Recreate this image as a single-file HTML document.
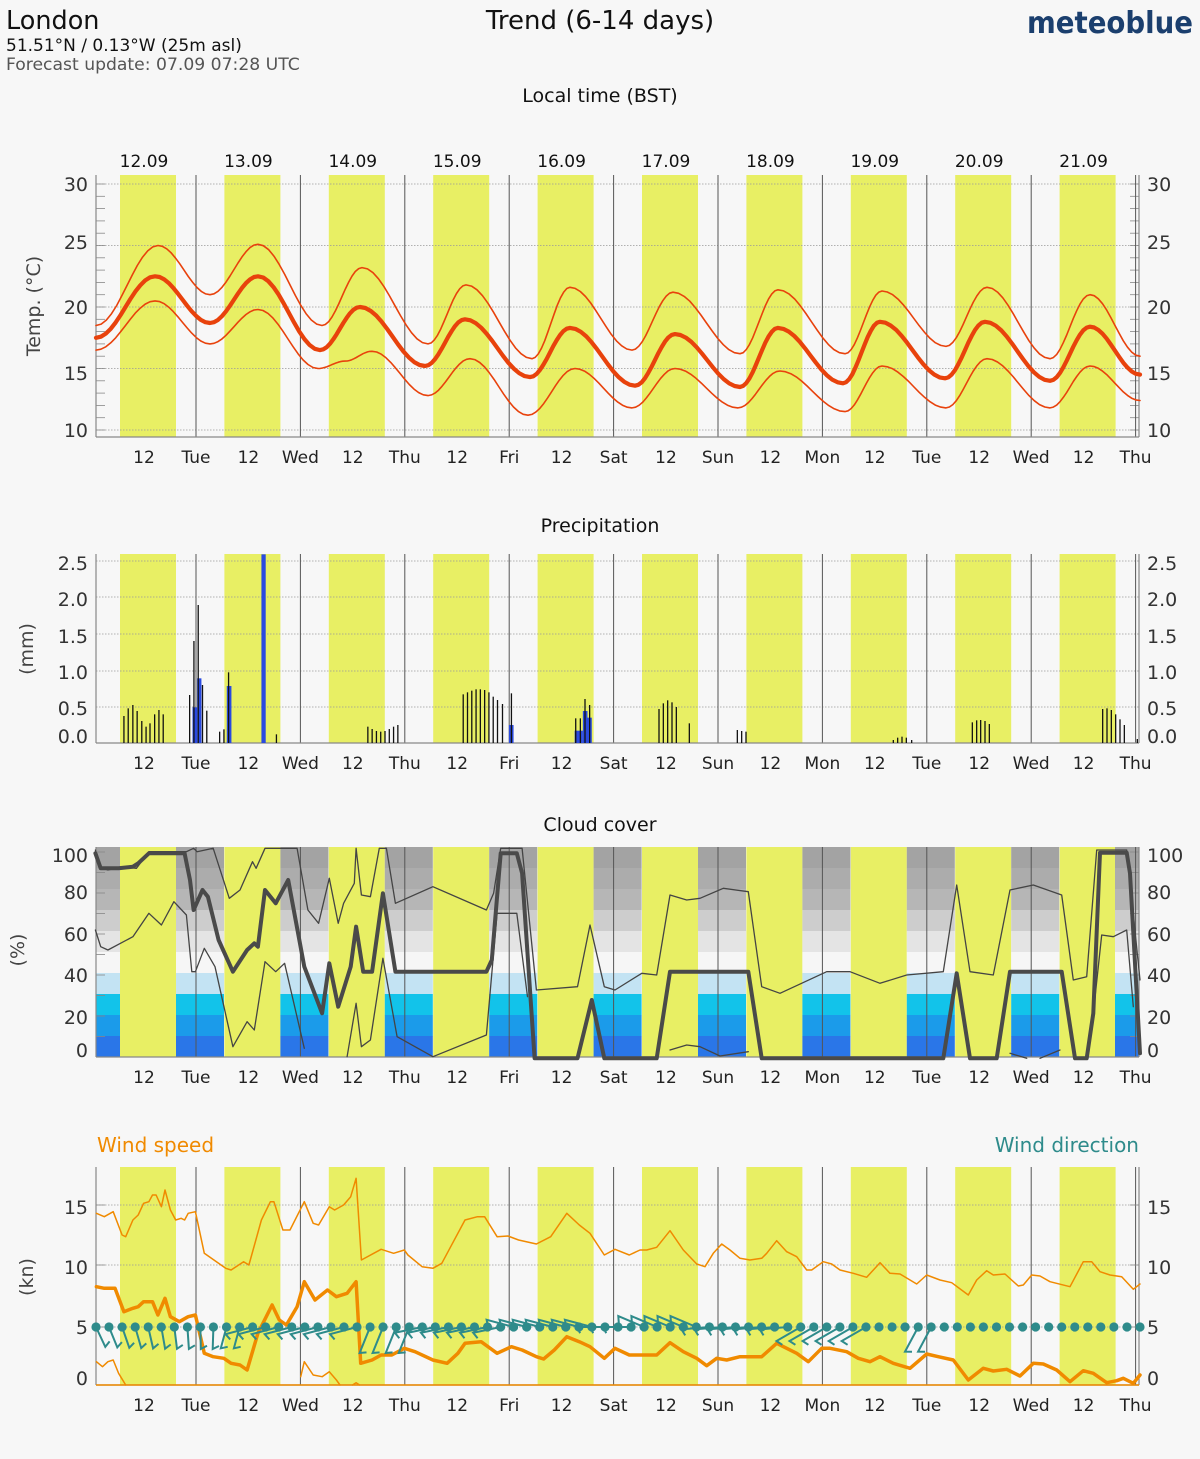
<!DOCTYPE html>
<html><head><meta charset="utf-8"><style>
html,body{margin:0;padding:0;background:#f7f7f7}
svg{display:block;font-family:"DejaVu Sans","Liberation Sans",sans-serif}
</style></head><body>
<svg id="s" width="1200" height="1459" viewBox="0 0 1200 1459" xmlns="http://www.w3.org/2000/svg">
<rect width="1200" height="1459" fill="#f7f7f7"/>
<text x="6" y="29" font-size="25.5" fill="#111">London</text>
<text x="6" y="51" font-size="17" fill="#111">51.51°N / 0.13°W (25m asl)</text>
<text x="6" y="70" font-size="17.2" fill="#555">Forecast update: 07.09 07:28 UTC</text>
<text x="600" y="29" font-size="26" fill="#111" text-anchor="middle">Trend (6-14 days)</text>
<text x="1027" y="33" font-size="30" font-weight="bold" fill="#1b3f6e" textLength="166" lengthAdjust="spacingAndGlyphs">meteoblue</text>
<text x="600" y="102" font-size="19" fill="#111" text-anchor="middle">Local time (BST)</text>
<text x="600" y="532" font-size="19" fill="#111" text-anchor="middle">Precipitation</text>
<text x="600" y="831" font-size="19" fill="#111" text-anchor="middle">Cloud cover</text>
<text x="97" y="1152" font-size="20" fill="#f08a00">Wind speed</text>
<text x="1139" y="1152" font-size="20" fill="#2e8b8b" text-anchor="end">Wind direction</text>
<g id="g"></g>
</svg>
<script>
var out=[];
function P(s){out.push(s);}
var D=104.4;
function yel(top,bot){for(var k=0;k<10;k++){P('<rect x="'+(120+D*k)+'" y="'+top+'" width="56" height="'+(bot-top)+'" fill="#e8ef64"/>');}}
function mid(top,bot){for(var k=0;k<10;k++){var x=196+D*k;P('<line x1="'+x+'" y1="'+top+'" x2="'+x+'" y2="'+bot+'" stroke="#555" stroke-width="1"/>');}}
function frame(top,bot){P('<line x1="96" y1="'+top+'" x2="96" y2="'+bot+'" stroke="#888" stroke-width="1.2"/>');P('<line x1="1139" y1="'+top+'" x2="1139" y2="'+bot+'" stroke="#888" stroke-width="1.2"/>');P('<line x1="96" y1="'+bot+'" x2="1139" y2="'+bot+'" stroke="#888" stroke-width="1.2"/>');}
function grid(ys){ys.forEach(function(y){P('<line x1="96" y1="'+y+'" x2="1139" y2="'+y+'" stroke="#999" stroke-width="0.8" stroke-dasharray="1.5,1.5"/>');});}
function ticks(ys,len){ys.forEach(function(y){P('<line x1="96" y1="'+y+'" x2="'+(96+len)+'" y2="'+y+'" stroke="#888" stroke-width="0.8"/>');P('<line x1="'+(1139-len)+'" y1="'+y+'" x2="1139" y2="'+y+'" stroke="#888" stroke-width="0.8"/>');});}
function ylabels(arr){arr.forEach(function(a){P('<text x="88" y="'+(a[1]+7)+'" font-size="19" fill="#333" text-anchor="end">'+a[0]+'</text>');P('<text x="1147" y="'+(a[1]+7)+'" font-size="19" fill="#333">'+a[0]+'</text>');});}
var days=["Tue","Wed","Thu","Fri","Sat","Sun","Mon","Tue","Wed","Thu"];
function xlabels(y){for(var k=0;k<10;k++){P('<text x="'+(144+D*k)+'" y="'+y+'" font-size="17" fill="#222" text-anchor="middle">12</text>');P('<text x="'+(196+D*k)+'" y="'+y+'" font-size="17" fill="#222" text-anchor="middle">'+days[k]+'</text>');}}
function ytitle(t,x,y){P('<text transform="translate('+x+','+y+') rotate(-90)" font-size="19" fill="#444" text-anchor="middle">'+t+'</text>');}
function cosPath(pts,fy){var s='';for(var i=0;i<pts.length-1;i++){var a=pts[i],b=pts[i+1];for(var j=0;j<=12;j++){var t=j/12,u=(1-Math.cos(Math.PI*t))/2;var x=a[0]+(b[0]-a[0])*t,y=fy(a[1]+(b[1]-a[1])*u);s+=(s?'L':'M')+x.toFixed(1)+','+y.toFixed(1);}}return s;}
function lin(pts){return pts.map(function(p,i){return (i?'L':'M')+p[0].toFixed(1)+','+p[1].toFixed(1);}).join('');}
function z(pts,ox,oy,fx,fy){return pts.map(function(p){return [ox+p[0]/fx,oy+p[1]/fy];});}
function path(d,c,w){P('<path d="'+d+'" fill="none" stroke="'+c+'" stroke-width="'+w+'" stroke-linejoin="round" stroke-linecap="round"/>');}

var dates=["12.09","13.09","14.09","15.09","16.09","17.09","18.09","19.09","20.09","21.09"];
for(var k=0;k<10;k++)P('<text x="'+(144+D*k)+'" y="167" font-size="17" fill="#111" text-anchor="middle">'+dates[k]+'</text>');

/* TEMP */
var tY=function(T){return 184+(30-T)*12.3;};
yel(175,437);
grid([184,245.5,307,368.5,430]);
var tk=[];for(var T=10;T<=30;T++)tk.push(tY(T));ticks(tk,9);
mid(175,437);frame(175,437);
ylabels([["30",184],["25",242],["20",307],["15",373],["10",430]]);
ytitle("Temp. (°C)",40,306);
xlabels(463);
var tm=[[96,17.5],[155,22.5],[210,18.7],[258,22.5],[320,16.5],[360,20],[425,15.2],[465,19],[530,14.3],[570,18.3],[635,13.6],[675,17.8],[740,13.5],[778,18.3],[843,13.8],[880,18.8],[945,14.2],[985,18.8],[1050,14.0],[1090,18.4],[1140,14.5]];
var tu=[[96,18.5],[158,25],[210,21],[258,25.1],[322,18.5],[362,23.2],[428,17],[466,21.8],[532,15.8],[570,21.6],[632,16.5],[673,21.2],[740,16.2],[778,21.4],[845,16.2],[882,21.3],[946,16.8],[987,21.6],[1050,15.8],[1090,21],[1140,16]];
var tl=[[96,16.5],[155,20.5],[210,17],[258,19.8],[318,15],[345,15.6],[372,16.4],[428,12.8],[470,15.8],[528,11.2],[575,15],[632,11.8],[675,15],[738,11.8],[780,14.8],[845,11.5],[882,15.2],[946,11.8],[987,15.8],[1050,11.8],[1090,15.2],[1140,12.4]];
path(cosPath(tu,tY),"#e8420c",1.6);path(cosPath(tl,tY),"#e8420c",1.6);path(cosPath(tm,tY),"#e8420c",4.2);

/* PRECIP */
yel(554,743);
grid([561,597,634,671,707]);
mid(554,743);frame(554,743);
ylabels([["2.5",563],["2.0",599],["1.5",636],["1.0",672],["0.5",708],["0.0",736]]);
ytitle("(mm)",33,649);
xlabels(769);
var blue=[[287,300,487],[300,312,400],[383,396,423],[480,492,28],[1173,1186,540],[1357,1380,557],[1380,1393,498],[1393,1405,518]];
blue.forEach(function(b){var x1=90+b[0]/2.8,x2=90+b[1]/2.8,y=545+b[2]/3;P('<rect x="'+x1+'" y="'+y+'" width="'+(x2-x1)+'" height="'+(743-y)+'" fill="#2a4ae0"/>');});
var bl=[[95,513],[107,490],[120,480],[132,498],[145,528],[157,545],[168,535],[181,508],[193,495],[205,508],[279,450],[291,288],[303,180],[315,420],[327,497],[363,560],[375,553],[388,382],[522,568],[778,545],[790,552],[802,558],[814,560],[826,558],[838,552],[850,545],[862,540],[1045,448],[1057,442],[1069,437],[1081,433],[1093,433],[1105,435],[1117,442],[1129,455],[1141,465],[1155,477],[1180,445],[1360,520],[1373,520],[1386,462],[1399,480]];
bl.forEach(function(b){var x=90+b[0]/2.8,y=545+b[1]/3;P('<line x1="'+x+'" y1="'+y+'" x2="'+x+'" y2="743" stroke="#111" stroke-width="1.3"/>');});
var br=[[57,492],[70,475],[83,466],[96,472],[109,486],[148,535],[292,555],[305,558],[318,560],[760,585],[773,578],[786,575],[799,578],[815,585],[997,532],[1010,526],[1022,525],[1035,528],[1048,537],[1388,492],[1401,490],[1414,495],[1427,508],[1440,523],[1453,540],[1492,582]];
br.forEach(function(b){var x=640+b[0]/3,y=545+b[1]/3;P('<line x1="'+x+'" y1="'+y+'" x2="'+x+'" y2="743" stroke="#111" stroke-width="1.3"/>');});

/* CLOUD */
yel(847,1057);
var cols=["#a3a3a3","#acacac","#b6b6b6","#cdcdcd","#e4e4e4","#f6f6f6","#c3e3f3","#12c3ea","#1b9bea","#2a76e8"];
var segs=[[96,120]];for(var k=0;k<9;k++)segs.push([176+D*k,224+D*k]);segs.push([1115,1139]);
segs.forEach(function(s){for(var i=0;i<10;i++)P('<rect x="'+s[0]+'" y="'+(847+i*21)+'" width="'+(s[1]-s[0])+'" height="21.2" fill="'+cols[i]+'"/>');});
var ck=[];for(var p=0;p<=100;p+=10)ck.push(1057-p*2.05);ticks(ck,9);
mid(847,1057);frame(847,1057);
ylabels([["100",855],["80",892],["60",934],["40",975],["20",1017],["0",1050]]);
ytitle("(%)",24,950);
xlabels(1083);
var Z1=function(a){return z(a,90,840,2.8,3);},Z2=function(a){return z(a,640,840,3,3);};
var cu=Z1([[15,30],[25,80],[50,90],[90,80],[130,85],[165,35],[270,35],[290,25],[300,35],[345,25],[390,175],[420,150],[455,65],[465,85],[490,25],[580,25],[610,210],[640,250],[670,115],[695,250],[710,190],[740,130],[745,25],[760,165],[785,170],[810,25],[830,25],[855,190],[960,140],[1110,210],[1130,160],[1150,25],[1210,25],[1250,450],[1365,440],[1400,255],[1440,440],[1470,450],[1545,400]]).concat(Z2([[50,405],[90,165],[140,180],[180,175],[250,145],[325,155],[365,440],[420,460],[560,395],[630,395],[720,430],[800,405],[910,395],[950,135],[990,395],[1060,405],[1110,150],[1180,135],[1265,165],[1300,420],[1340,410],[1370,30],[1460,30],[1500,420]]));
path(lin(cu),"#444",1.3);
var lsegs=[Z1([[15,270],[30,320],[50,330],[120,290],[165,220],[200,255],[235,185],[270,225],[285,395],[295,395],[320,325],[350,380],[400,620],[440,545],[460,570],[490,365],[520,395],[545,370],[600,625]]),Z1([[720,650],[745,490],[760,620],[785,600],[820,355],[860,590],[960,650],[1110,585],[1140,220],[1195,220],[1225,470]]),Z2([[90,630],[140,615],[180,620],[240,648],[325,635]]),Z2([[1110,640],[1160,655]]),Z2([[1200,655],[1260,630]]),Z2([[1360,520],[1385,285],[1420,290],[1460,270],[1480,500]])];
lsegs.forEach(function(s){path(lin(s),"#444",1.3);});
var cm=Z1([[15,40],[30,85],[80,85],[120,80],[135,70],[165,40],[265,40],[280,120],[290,210],[315,150],[330,170],[360,300],[400,395],[440,330],[460,310],[470,320],[490,150],[520,190],[555,120],[600,380],[650,520],[670,370],[695,500],[730,380],[745,260],[765,395],[790,395],[820,160],[855,395],[1110,395],[1125,360],[1150,40],[1195,40],[1210,100],[1245,655],[1365,655],[1405,480],[1440,655],[1540,655]]).concat(Z2([[50,655],[90,395],[325,395],[365,655],[910,655],[950,400],[990,655],[1070,655],[1110,395],[1265,395],[1305,655],[1340,655],[1360,520],[1380,38],[1460,38],[1470,100],[1500,640]]));
path(lin(cm),"#4a4a4a",4);

/* WIND */
yel(1167,1385);
grid([1205,1265,1327]);
mid(1167,1385);frame(1167,1385);
ticks([1205,1265,1327,1385],9);
ylabels([["15",1207],["10",1267],["5",1327],["0",1378]]);
ytitle("(kn)",33,1277);
xlabels(1411);
var W3=function(a){return z(a,90,1160,2.8,3);},W5=function(a){return z(a,640,1160,3,3);};
var wu=W3([[18,160],[40,170],[65,155],[90,225],[100,230],[120,180],[135,165],[150,130],[165,125],[175,105],[185,105],[200,140],[210,90],[225,150],[240,180],[255,175],[265,180],[275,160],[295,155],[320,280],[380,325],[395,330],[430,305],[445,315],[480,180],[505,125],[515,125],[540,210],[560,210],[600,125],[625,190],[640,195],[670,140],[685,150],[710,135],[730,110],[745,55],[760,300],[815,268],[850,280],[880,270],[890,285],[930,320],[960,325],[985,310],[1010,260],[1050,180],[1085,170],[1105,170],[1140,230],[1170,228],[1200,240],[1250,252],[1290,230],[1335,160],[1370,195],[1400,220],[1440,285],[1470,268],[1510,285],[1540,270]]).concat(W5([[20,270],[50,262],[90,212],[130,270],[170,312],[195,320],[220,280],[245,252],[270,270],[300,295],[330,300],[365,295],[380,280],[410,242],[440,275],[470,290],[500,330],[515,330],[550,305],[575,312],[600,330],[640,340],[680,352],[720,308],[750,340],[780,342],[830,372],[860,345],[900,360],[935,368],[985,405],[1010,360],[1040,332],[1060,345],[1095,342],[1135,378],[1150,375],[1175,345],[1200,348],[1230,365],[1290,380],[1330,305],[1355,305],[1380,335],[1410,345],[1445,350],[1480,388],[1500,372]]));
path(lin(wu),"#f08a00",1.5);
var wl=[W3([[18,605],[35,620],[50,605],[65,600],[80,640],[100,675]]),W3([[590,650],[600,605],[625,645],[650,650],[670,635],[690,660],[700,675]]),W3([[735,675],[745,668],[755,675]])];
wl.forEach(function(s){path(lin(s),"#f08a00",1.5);});
P('<line x1="96" y1="1385" x2="1139" y2="1385" stroke="#f08a00" stroke-width="1.5"/>');
var wm=W3([[18,380],[40,385],[70,385],[95,455],[120,445],[135,440],[150,425],[175,425],[190,465],[210,415],[225,470],[250,485],[275,470],[295,465],[320,580],[345,590],[375,595],[395,610],[420,615],[440,630],[470,520],[510,435],[530,480],[550,495],[580,440],[600,365],[630,420],[665,390],[690,410],[720,400],[745,365],[758,610],[790,600],[815,585],[845,585],[880,565],[910,575],[960,600],[1000,610],[1030,580],[1050,550],[1095,545],[1140,580],[1180,560],[1210,570],[1250,590],[1270,597],[1300,570],[1335,530],[1370,545],[1400,560],[1440,595],[1470,565],[1510,585],[1540,585]]).concat(W5([[20,585],[50,585],[90,548],[130,575],[170,595],[200,617],[230,595],[260,600],[300,590],[365,590],[410,550],[440,565],[470,580],[505,605],[545,565],[570,565],[620,575],[655,595],[690,605],[720,590],[760,610],[810,625],[860,582],[895,590],[940,600],[985,660],[1030,625],[1060,633],[1100,628],[1140,648],[1180,610],[1210,612],[1250,630],[1290,665],[1330,632],[1360,640],[1400,668],[1430,662],[1450,655],[1480,670],[1500,645]]));
path(lin(wm),"#f08a00",3.5);
function barb(x,y,ang,len){var a=ang*Math.PI/180,ex=x+Math.cos(a)*len,ey=y+Math.sin(a)*len;var b=a-Math.PI*0.65,fx=ex+Math.cos(b)*7,fy=ey+Math.sin(b)*7;P('<path d="M'+x.toFixed(1)+','+y+'L'+ex.toFixed(1)+','+ey.toFixed(1)+'L'+fx.toFixed(1)+','+fy.toFixed(1)+'" fill="none" stroke="#2e8b8b" stroke-width="2"/>');}
for(var i=0;i<=80;i++){var x=96+i*13.05,ang=null,len=(i<12?22:28);
if(i<=9)ang=65+i*3;else if(i<=11)ang=105;else if(i<=20)ang=165;else if(i<=24)ang=112;else if(i<=31)ang=168;else if(i<=38)ang=195;else if(i<=41)ang=180;else if(i<=46)ang=203;else if(i<=53)ang=175;else if(i<=59)ang=150;else if(i==63||i==64)ang=118;
if(ang!==null)barb(x,1327,ang,len);}
for(var i=0;i<=80;i++){P('<circle cx="'+(96+i*13.05).toFixed(1)+'" cy="1327" r="4.6" fill="#2e8b8b"/>');}
document.getElementById('g').innerHTML=out.join('');
</script>
</body></html>
